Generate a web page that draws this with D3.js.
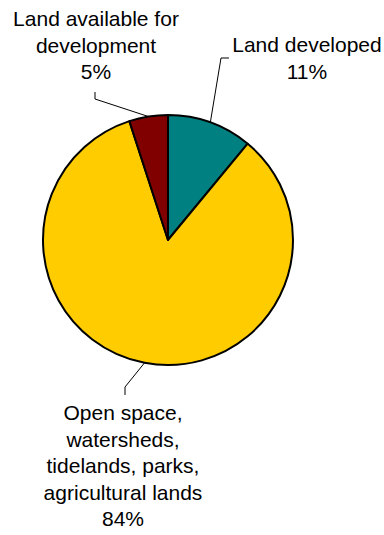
<!DOCTYPE html>
<html>
<head>
<meta charset="utf-8">
<script src="https://cdn.jsdelivr.net/npm/d3@7"></script>
<style>
  body { margin: 0; background: #fff; }
  text { font-family: "Liberation Sans", Arial, sans-serif; font-size: 21px; fill: #000; }
</style>
</head>
<body>
<div id="chart"></div>
<script>
// data
const categories = ['Land developed', 'Open space, watersheds, tidelands, parks, agricultural lands', 'Land available for development'];
const values = [11, 84, 5];
const labelLines = [
    ['Land developed', '11%'],
    ['Open space,', 'watersheds,', 'tidelands, parks,', 'agricultural lands', '84%'],
    ['Land available for', 'development', '5%']
];
const colors = ['#008080', '#FFCC00', '#800000'];

const width = 384, height = 535;
const cx = 168, cy = 240, radius = 125;
const lineH = 26.5;

// label layout: text centre x, first baseline y, knee and end of leader line
const labelLayout = [
    { x: 307, y: 52, knee: [221, 58], end: [229, 58] },
    { x: 123, y: 420, knee: [125, 387], end: [125, 395] },
    { x: 96, y: 26, knee: [95, 99], end: [95, 92] }
];

const svg = d3.select('#chart')
    .append('svg')
    .attr('width', width)
    .attr('height', height);

const pie = d3.pie().sort(null).value(d => d)(values);
const arc = d3.arc().innerRadius(0).outerRadius(radius);

const g = svg.append('g')
    .attr('transform', `translate(${cx},${cy})`);

g.selectAll('path.slice')
    .data(pie)
    .enter()
    .append('path')
    .attr('class', 'slice')
    .attr('d', arc)
    .attr('fill', (d, i) => colors[i])
    .attr('stroke', '#000')
    .attr('stroke-width', 2)
    .attr('stroke-linejoin', 'round');

// leader lines
pie.forEach((d, i) => {
    const mid = (d.startAngle + d.endAngle) / 2;
    const px = cx + radius * Math.sin(mid);
    const py = cy - radius * Math.cos(mid);
    const l = labelLayout[i];
    svg.append('polyline')
        .attr('points', `${px},${py} ${l.knee[0]},${l.knee[1]} ${l.end[0]},${l.end[1]}`)
        .attr('fill', 'none')
        .attr('stroke', '#000')
        .attr('stroke-width', 1);
});

// labels
labelLines.forEach((lines, i) => {
    const l = labelLayout[i];
    const t = svg.append('text')
        .attr('text-anchor', 'middle');
    lines.forEach((s, j) => {
        t.append('tspan')
            .attr('x', l.x)
            .attr('y', l.y + j * lineH)
            .text(s);
    });
});
</script>
</body>
</html>
